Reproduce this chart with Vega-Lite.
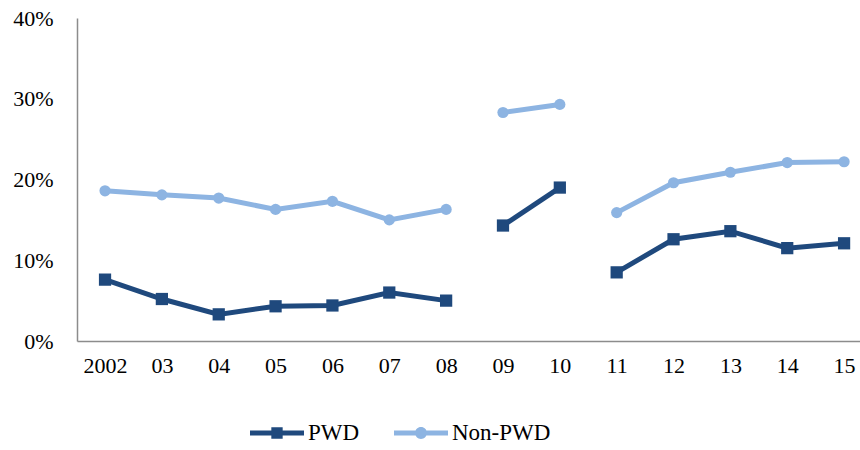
{
  "$schema": "https://vega.github.io/schema/vega-lite/v6.json",
  "width": 783,
  "height": 323,
  "autosize": {"type": "none"},
  "padding": {"left": 77, "top": 18, "right": 0, "bottom": 109},
  "background": "white",
  "config": {
    "view": {"stroke": null},
    "font": "Liberation Serif",
    "axis": {"labelFont": "Liberation Serif", "labelColor": "#000000", "grid": false, "ticks": false, "domainColor": "#8c8c8c", "domainWidth": 1.5},
    "legend": {"symbolOpacity": 1, "symbolStrokeWidth": 0}
  },
  "data": {
    "values": [
      {"year": 2002, "group": "PWD", "segment": "a", "rate": 0.076},
      {"year": 2003, "group": "PWD", "segment": "a", "rate": 0.052},
      {"year": 2004, "group": "PWD", "segment": "a", "rate": 0.033},
      {"year": 2005, "group": "PWD", "segment": "a", "rate": 0.043},
      {"year": 2006, "group": "PWD", "segment": "a", "rate": 0.044},
      {"year": 2007, "group": "PWD", "segment": "a", "rate": 0.060},
      {"year": 2008, "group": "PWD", "segment": "a", "rate": 0.050},
      {"year": 2009, "group": "PWD", "segment": "b", "rate": 0.143},
      {"year": 2010, "group": "PWD", "segment": "b", "rate": 0.190},
      {"year": 2011, "group": "PWD", "segment": "c", "rate": 0.085},
      {"year": 2012, "group": "PWD", "segment": "c", "rate": 0.126},
      {"year": 2013, "group": "PWD", "segment": "c", "rate": 0.136},
      {"year": 2014, "group": "PWD", "segment": "c", "rate": 0.115},
      {"year": 2015, "group": "PWD", "segment": "c", "rate": 0.121},
      {"year": 2002, "group": "Non-PWD", "segment": "a", "rate": 0.186},
      {"year": 2003, "group": "Non-PWD", "segment": "a", "rate": 0.181},
      {"year": 2004, "group": "Non-PWD", "segment": "a", "rate": 0.177},
      {"year": 2005, "group": "Non-PWD", "segment": "a", "rate": 0.163},
      {"year": 2006, "group": "Non-PWD", "segment": "a", "rate": 0.173},
      {"year": 2007, "group": "Non-PWD", "segment": "a", "rate": 0.150},
      {"year": 2008, "group": "Non-PWD", "segment": "a", "rate": 0.163},
      {"year": 2009, "group": "Non-PWD", "segment": "b", "rate": 0.283},
      {"year": 2010, "group": "Non-PWD", "segment": "b", "rate": 0.293},
      {"year": 2011, "group": "Non-PWD", "segment": "c", "rate": 0.159},
      {"year": 2012, "group": "Non-PWD", "segment": "c", "rate": 0.196},
      {"year": 2013, "group": "Non-PWD", "segment": "c", "rate": 0.209},
      {"year": 2014, "group": "Non-PWD", "segment": "c", "rate": 0.221},
      {"year": 2015, "group": "Non-PWD", "segment": "c", "rate": 0.222}
    ]
  },
  "encoding": {
    "x": {
      "field": "year",
      "type": "quantitative",
      "scale": {"domain": [2001.507, 2015.28], "nice": false, "zero": false},
      "axis": {
        "title": null,
        "values": [2002, 2003, 2004, 2005, 2006, 2007, 2008, 2009, 2010, 2011, 2012, 2013, 2014, 2015],
        "format": "d",
        "labelExpr": "datum.value == 2002 ? datum.label : slice(datum.label, -2)",
        "labelFontSize": 22,
        "labelPadding": 14,
        "labelFlush": false,
        "labelOverlap": false
      }
    },
    "y": {
      "field": "rate",
      "type": "quantitative",
      "scale": {"domain": [0, 0.4], "nice": false},
      "axis": {
        "title": null,
        "values": [0, 0.1, 0.2, 0.3, 0.4],
        "format": ".0%",
        "labelFontSize": 22,
        "labelPadding": 24,
        "labelFlush": false
      }
    },
    "color": {
      "field": "group",
      "type": "nominal",
      "scale": {"domain": ["PWD", "Non-PWD"], "range": ["#1F497D", "#8DB4E2"]},
      "legend": {
        "title": null,
        "orient": "none",
        "direction": "horizontal",
        "legendX": 173,
        "legendY": 388,
        "labelFont": "Liberation Serif",
        "labelFontSize": 23,
        "labelColor": "#000000",
        "labelOffset": 4,
        "columnPadding": 34,
        "symbolSize": 2916,
        "symbolOpacity": 1,
        "symbolStrokeWidth": 0
      }
    },
    "detail": {"field": "segment"}
  },
  "layer": [
    {"mark": {"type": "line", "strokeWidth": 5}},
    {
      "transform": [{"filter": "datum.group === 'PWD'"}],
      "mark": {"type": "point", "filled": true, "opacity": 1, "shape": "square", "size": 150}
    },
    {
      "transform": [{"filter": "datum.group === 'Non-PWD'"}],
      "mark": {"type": "point", "filled": true, "opacity": 1, "shape": "circle", "size": 125}
    },
    {
      "mark": {"type": "point", "filled": true, "opacity": 0, "size": 1},
      "encoding": {
        "shape": {
          "field": "group",
          "type": "nominal",
          "scale": {"domain": ["PWD", "Non-PWD"], "range": ["M-1,-0.09H1V0.09H-1Z M-0.21,-0.21H0.21V0.21H-0.21Z", "M-1,-0.09H1V0.09H-1Z M0.22,0A0.22,0.22 0 1,1 -0.22,0A0.22,0.22 0 1,1 0.22,0Z"]},
          "legend": {
            "title": null,
            "orient": "none",
            "direction": "horizontal",
            "legendX": 173,
            "legendY": 388,
            "labelFont": "Liberation Serif",
            "labelFontSize": 23,
            "labelColor": "#000000",
            "labelOffset": 4,
            "columnPadding": 34,
            "symbolSize": 2916,
            "symbolOpacity": 1,
            "symbolStrokeWidth": 0
          }
        }
      }
    }
  ]
}
